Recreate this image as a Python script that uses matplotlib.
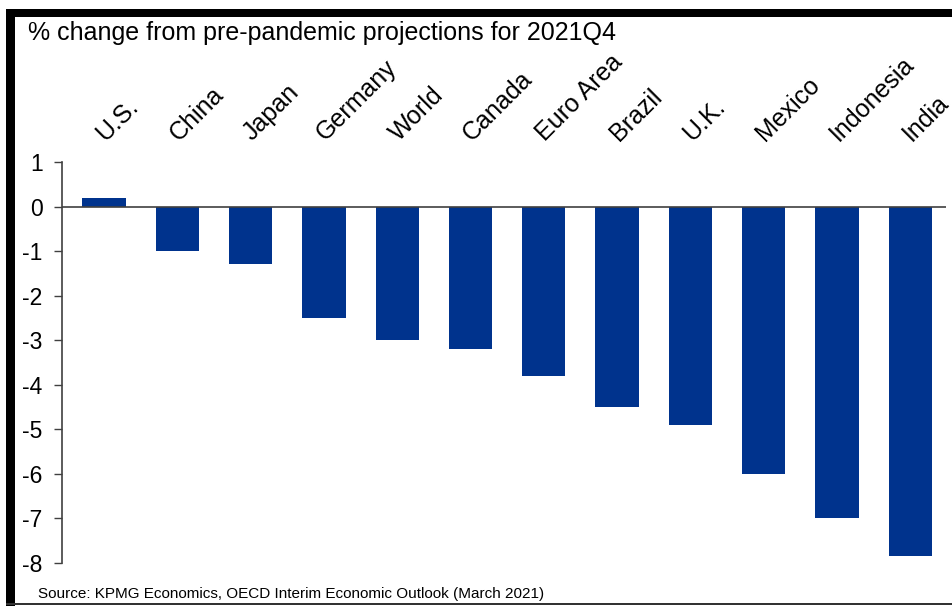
import matplotlib
matplotlib.use("Agg")
import matplotlib.pyplot as plt
from matplotlib.patches import Rectangle
from matplotlib.transforms import blended_transform_factory
import numpy as np

BAR_COLOR = "#00338D"
AXIS_COLOR = "#404040"

countries = ["U.S.", "China", "Japan", "Germany", "World", "Canada",
             "Euro Area", "Brazil", "U.K.", "Mexico", "Indonesia", "India"]
change_pct = [0.2, -1.0, -1.3, -2.5, -3.0, -3.2,
              -3.8, -4.5, -4.9, -6.0, -7.0, -7.85]
yticks = [1, 0, -1, -2, -3, -4, -5, -6, -7, -8]

W, H = 953, 607
plt.rcParams["font.family"] = ["Liberation Sans", "DejaVu Sans"]

fig = plt.figure(figsize=(W / 100, H / 100), dpi=100)
ax = fig.add_axes([62 / W, 1 - 563 / H, (946 - 62) / W, (563 - 162) / H])

x = np.arange(len(countries))
ax.bar(x, change_pct, width=0.59, color=BAR_COLOR, linewidth=0)
ax.axhline(0, color=AXIS_COLOR, linewidth=1.2, zorder=3)

ax.set_xlim(-0.573, 11.487)
ax.set_ylim(-8, 1)
ax.set_yticks(yticks)
ax.set_yticklabels([f"{v:g}" for v in yticks], fontsize=16.5)
ax.set_xticks([])
ax.tick_params(axis="y", direction="out", length=6, width=1, color=AXIS_COLOR, pad=8)
for s in ("top", "right", "bottom"):
    ax.spines[s].set_visible(False)
ax.spines["left"].set_color(AXIS_COLOR)
ax.spines["left"].set_linewidth(1.2)

# country names run diagonally above the plot area
trans = blended_transform_factory(ax.transData, ax.transAxes)
for i, name in enumerate(countries):
    ax.text(i + 0.02, 1.05, name, transform=trans, rotation=45,
            rotation_mode="anchor", ha="left", va="baseline", fontsize=18)

fig.text(28 / W, 1 - 40 / H, "% change from pre-pandemic projections for 2021Q4",
         fontsize=18, ha="left", va="baseline")
fig.text(38 / W, 1 - 598 / H,
         "Source: KPMG Economics, OECD Interim Economic Outlook (March 2021)",
         fontsize=11, ha="left", va="baseline")

# black frame along top and left, thin rule along the bottom
def frame(x0, y0, x1, y1, color):
    fig.add_artist(Rectangle((x0 / W, 1 - y1 / H), (x1 - x0) / W, (y1 - y0) / H,
                             transform=fig.transFigure, color=color, linewidth=0))

frame(6, 9, W, 17, "black")
frame(6, 9, 15, 606, "black")
frame(6, 603, W, 605, "#333333")

fig.savefig("out.png", dpi=100)
